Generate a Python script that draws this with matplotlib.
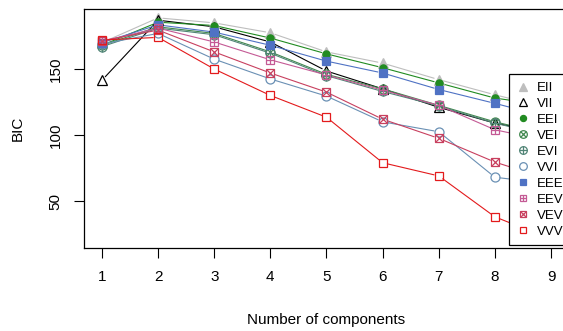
import numpy as np
import matplotlib
matplotlib.use("Agg")
import matplotlib.pyplot as plt
from matplotlib.lines import Line2D
from matplotlib.patches import FancyArrowPatch

plt.rcParams['font.family'] = ['Liberation Sans', 'DejaVu Sans']

# number of mixture components
components = [1, 2, 3, 4, 5, 6, 7, 8, 9]

# BIC values per model
EII = [170.0, 188.8, 185.0, 177.5, 163.0, 154.5, 142.0, 130.5, 120.0]
VII = [141.5, 187.0, 182.0, 170.5, 148.5, 135.0, 121.0, 109.0, 101.0]
EEI = [168.0, 185.5, 183.0, 173.5, 161.5, 151.0, 139.5, 128.0, 122.0]
VEI = [168.0, 182.0, 177.0, 163.0, 146.0, 135.0, 122.5, 110.0, 100.0]
EVI = [167.0, 181.0, 176.0, 162.0, 145.0, 133.0, 122.0, 109.0, 99.0]
VVI = [169.0, 177.0, 157.5, 142.5, 129.5, 110.0, 102.5, 68.0, 63.0]
EEE = [170.0, 183.5, 178.0, 168.0, 156.0, 147.0, 134.5, 124.0, 113.0]
EEV = [171.0, 181.0, 170.5, 157.0, 145.5, 134.0, 122.5, 104.0, 95.0]
VEV = [171.5, 179.5, 163.0, 147.0, 132.5, 112.0, 97.5, 79.5, 66.0]
VVV = [172.0, 174.0, 150.0, 130.0, 113.5, 79.0, 69.0, 38.0, 21.1]

model_names = ["EII", "VII", "EEI", "VEI", "EVI", "VVI", "EEE", "EEV", "VEV", "VVV"]
model_values = [EII, VII, EEI, VEI, EVI, VVI, EEE, EEV, VEV, VVV]

colors = {"EII": "#bebebe", "VII": "black", "EEI": "#218B21", "VEI": "#41884F",
          "EVI": "#508476", "VVI": "#6A90B4", "EEE": "#4F72C4", "EEV": "#C45A95",
          "VEV": "#C8405F", "VVV": "#E31A1C"}

# (marker, filled, size) layers making up each plotting symbol
symbols = {"EII": [("^", True, 1.0)],
           "VII": [("^", False, 1.0)],
           "EEI": [("o", True, 0.8)],
           "VEI": [("o", False, 1.0), ("x", False, 0.7)],
           "EVI": [("o", False, 1.0), ("+", False, 1.0)],
           "VVI": [("o", False, 1.0)],
           "EEE": [("s", True, 0.85)],
           "EEV": [("s", False, 0.85), ("+", False, 0.85)],
           "VEV": [("s", False, 0.85), ("x", False, 0.85)],
           "VVV": [("s", False, 0.85)]}


def symbol_handles(name, ms, x=None, y=None, ax=None):
    handles = []
    c = colors[name]
    for marker, filled, scale in symbols[name]:
        kw = dict(marker=marker, linestyle='none', markersize=ms * scale,
                  color=c, markeredgecolor=c, markeredgewidth=0.9,
                  markerfacecolor=c if filled else 'none')
        if ax is not None:
            handles += ax.plot(x, y, **kw)
        else:
            handles.append(Line2D([], [], **kw))
    return tuple(handles)


fig = plt.figure(figsize=(5.63, 3.31), dpi=100)
ax = fig.add_axes([84 / 563, 83 / 331, 485 / 563, 239 / 331])

all_vals = np.concatenate([np.array(v) for v in model_values])
ymin, ymax = all_vals.min(), all_vals.max()
ypad = 0.04 * (ymax - ymin)
xpad = 0.04 * (max(components) - min(components))

for name, vals in zip(model_names, model_values):
    # type="b" style: segments with gaps around the points
    for i in range(len(components) - 1):
        seg = FancyArrowPatch((components[i], vals[i]), (components[i + 1], vals[i + 1]),
                              arrowstyle='-', shrinkA=3.5, shrinkB=3.5,
                              color=colors[name], lw=0.8)
        ax.add_patch(seg)
    symbol_handles(name, 6.5, components, vals, ax)

ax.set_xlim(min(components) - xpad, max(components) + xpad)
ax.set_ylim(ymin - ypad, ymax + ypad)
ax.set_xticks(components)
ax.set_yticks([50, 100, 150])
ax.tick_params(direction='out', length=7, width=0.8, labelsize=11)
ax.tick_params(axis='x', pad=9)
ax.tick_params(axis='y', pad=8.5)
plt.setp(ax.get_yticklabels(), rotation=90, va='center')
for s in ax.spines.values():
    s.set_linewidth(0.9)

ax.set_xlabel("Number of components", fontsize=11, labelpad=20.5)
ax.set_ylabel("BIC", fontsize=11, labelpad=17)

leg_handles = [symbol_handles(n, 5.5) for n in model_names]
leg = ax.legend(leg_handles, model_names, loc='upper left',
                bbox_to_anchor=(0.876, 0.728), borderaxespad=0,
                fontsize=9.5, frameon=True, fancybox=False, framealpha=1,
                edgecolor='black', handlelength=1.0, handletextpad=0.5,
                labelspacing=0.28, borderpad=0.6)
leg.get_frame().set_linewidth(0.9)

fig.savefig("out.png", dpi=100)
